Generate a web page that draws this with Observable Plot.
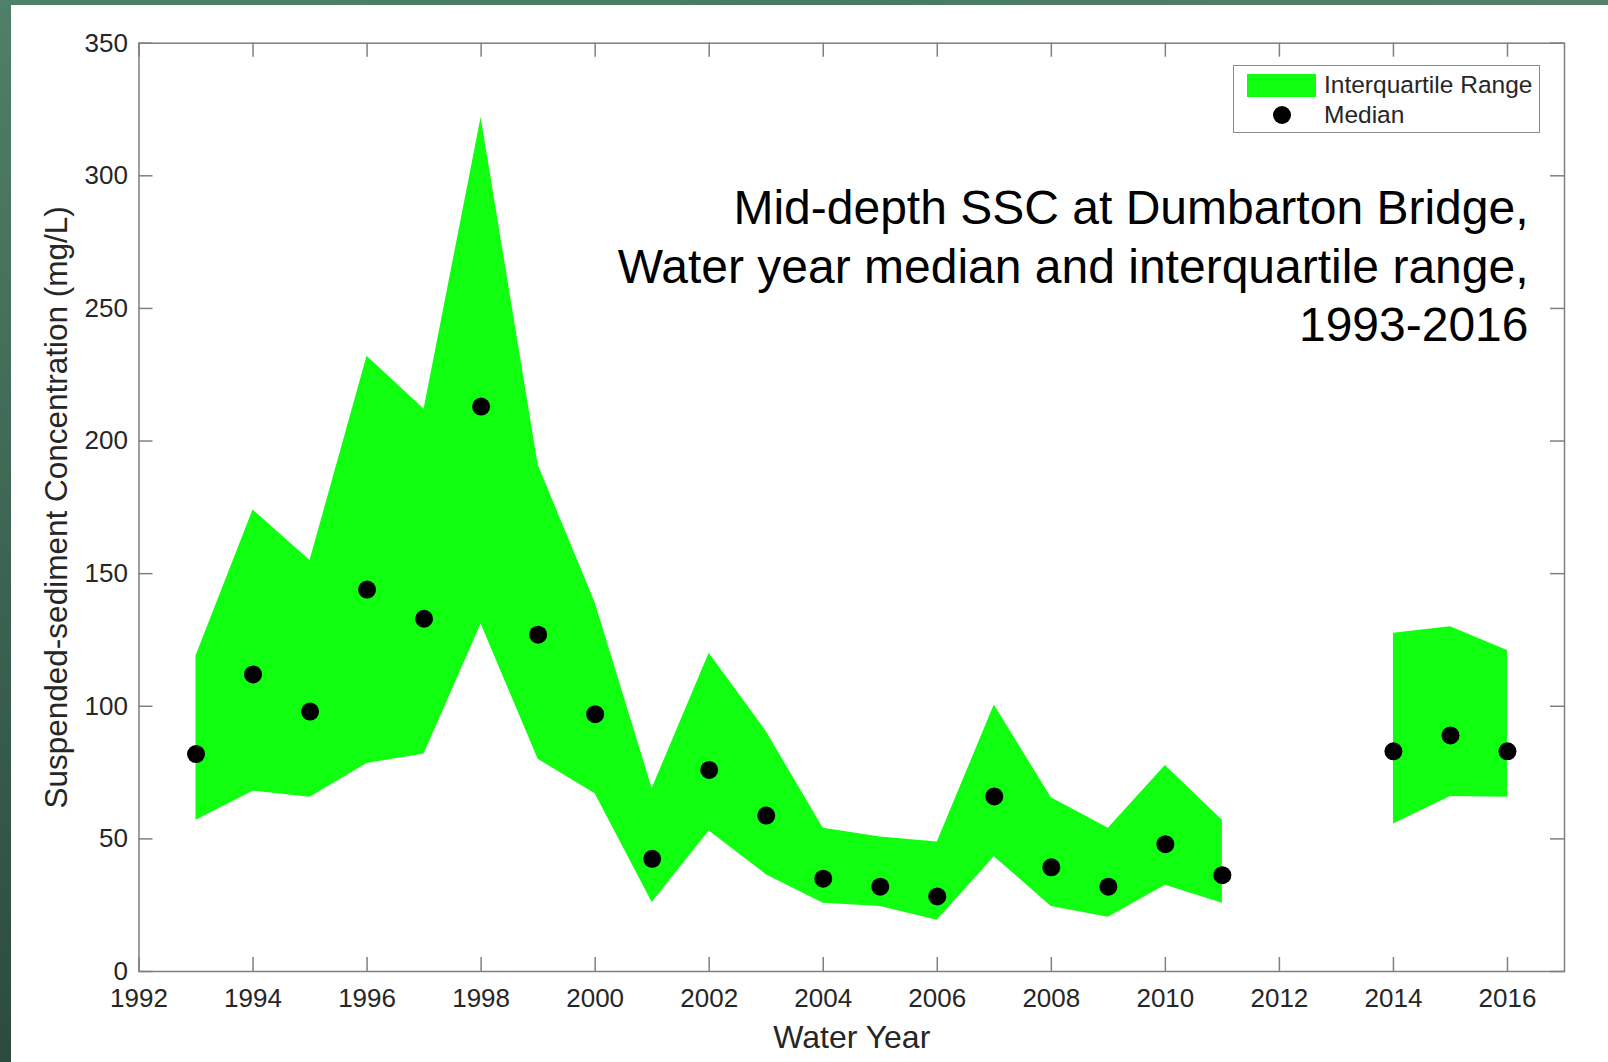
<!DOCTYPE html>
<html>
<head>
<meta charset="utf-8">
<script src="https://cdn.jsdelivr.net/npm/d3@7"></script>
<script src="https://cdn.jsdelivr.net/npm/@observablehq/plot@0.6"></script>
<style>
  html, body { margin: 0; padding: 0; background: #fff; }
  body { width: 1608px; height: 1062px; position: relative; overflow: hidden; font-family: "Liberation Sans", Arial, Helvetica, sans-serif; }
  #chart { position: absolute; left: 0; top: 0; }
  .strip-left { position: absolute; left: 0; top: 0; width: 11px; height: 1062px; background: linear-gradient(to bottom, #4f8069, #2c4b3d); z-index: 5; }
  .strip-top { position: absolute; left: 0; top: 0; width: 1608px; height: 5px; background: linear-gradient(to right, #4f8069, #4a7a63, #557f6b); z-index: 5; }
  .legend { position: absolute; left: 1233px; top: 65px; width: 305px; height: 66px; border: 1.5px solid #8a8a8a; background: #fff; z-index: 4; color: #262626; font-size: 24.5px; }
  .legend .swatch { position: absolute; left: 13px; width: 69px; height: 23px; background: #10ff10; }
  .legend .dot { position: absolute; left: 39px; width: 18px; height: 18px; border-radius: 50%; background: #000; }
  .legend .lbl { position: absolute; left: 90px; white-space: nowrap; line-height: 30px; }
</style>
</head>
<body>
<div class="strip-left"></div>
<div class="strip-top"></div>
<div id="chart"></div>
<div class="legend">
  <div class="swatch" style="top:8px"></div>
  <div class="lbl" style="top:4px">Interquartile Range</div>
  <div class="dot" style="top:40px"></div>
  <div class="lbl" style="top:34px">Median</div>
</div>
<script>
// ---- data ----
const years   = [1993, 1994, 1995, 1996, 1997, 1998, 1999, 2000, 2001, 2002, 2003, 2004, 2005, 2006, 2007, 2008, 2009, 2010, 2011, 2012, 2013, 2014, 2015, 2016];
const medians = [82, 112, 98, 144, 133, 213, 127, 97, 42.5, 76, 58.8, 35, 32, 28.3, 66, 39.3, 32, 48, 36.3, null, null, 83, 89, 83];
const q3      = [119, 174, 155, 232, 212, 322, 191, 139, 69, 120, 90.5, 54, 50.7, 48.8, 100.5, 65.5, 54, 77.7, 57, null, null, 127.5, 130, 121];
const q1      = [57, 68, 65.7, 78.4, 82, 131, 80, 67, 26, 53, 36.5, 25.7, 24.5, 19.3, 43.3, 24.5, 20.5, 32.5, 25.7, null, null, 55.6, 66, 65.7];
const xTicks  = [1992, 1994, 1996, 1998, 2000, 2002, 2004, 2006, 2008, 2010, 2012, 2014, 2016];
const yTicks  = [0, 50, 100, 150, 200, 250, 300, 350];
const titleLines = ["Mid-depth SSC at Dumbarton Bridge,", "Water year median and interquartile range,", "1993-2016"];
const xLabel = "Water Year";
const yLabel = "Suspended-sediment Concentration (mg/L)";

const rows = years.map((y, i) => ({year: y, median: medians[i], q1: q1[i], q3: q3[i]}));

const W = 1608, H = 1062;
const mL = 138.5, mR = 44, mT = 42.7, mB = 91;
const plotW = W - mL - mR, plotH = H - mT - mB;
const tickLen = 14;
const axisColor = "#7f7f7f";
const textColor = "#262626";

const chart = Plot.plot({
  width: W, height: H,
  marginLeft: mL, marginRight: mR, marginTop: mT, marginBottom: mB,
  style: {background: "transparent", fontFamily: "'Liberation Sans', Arial, Helvetica, sans-serif", fontSize: "26px", color: textColor},
  x: {domain: [1992, 2017]},
  y: {domain: [0, 350]},
  marks: [
    Plot.areaY(rows, {x: "year", y1: "q1", y2: "q3", fill: "#10ff10", curve: "linear"}),
    Plot.dot(rows.filter(d => d.median != null), {x: "year", y: "median", r: 9, fill: "#000", stroke: "none"}),
    Plot.frame({stroke: axisColor, strokeWidth: 1.5}),
    // inward tick marks on all four sides
    Plot.tickX(xTicks, {x: d => d, insetTop: plotH - tickLen, stroke: axisColor, strokeWidth: 1.5}),
    Plot.tickX(xTicks, {x: d => d, insetBottom: plotH - tickLen, stroke: axisColor, strokeWidth: 1.5}),
    Plot.tickY(yTicks, {y: d => d, insetRight: plotW - tickLen, stroke: axisColor, strokeWidth: 1.5}),
    Plot.tickY(yTicks, {y: d => d, insetLeft: plotW - tickLen, stroke: axisColor, strokeWidth: 1.5}),
    Plot.axisX({ticks: xTicks, tickFormat: d => String(d), tickSize: 0, tickPadding: 17, label: null, fill: textColor}),
    Plot.axisY({ticks: yTicks, tickFormat: d => String(d), tickSize: 0, tickPadding: 11, label: null, fill: textColor}),
    Plot.text([xLabel], {frameAnchor: "bottom", textAnchor: "middle", dy: 76, fontSize: 32, fill: textColor}),
    Plot.text([yLabel], {frameAnchor: "left", textAnchor: "middle", dx: -82, rotate: -90, fontSize: 31.5, fill: textColor}),
    Plot.text([titleLines.join("\n")], {frameAnchor: "top-right", textAnchor: "end", lineAnchor: "top", dx: -36, dy: 140, fontSize: 48, lineHeight: 1.21, fill: "#000"})
  ]
});
document.getElementById("chart").appendChild(chart);
</script>
</body>
</html>
